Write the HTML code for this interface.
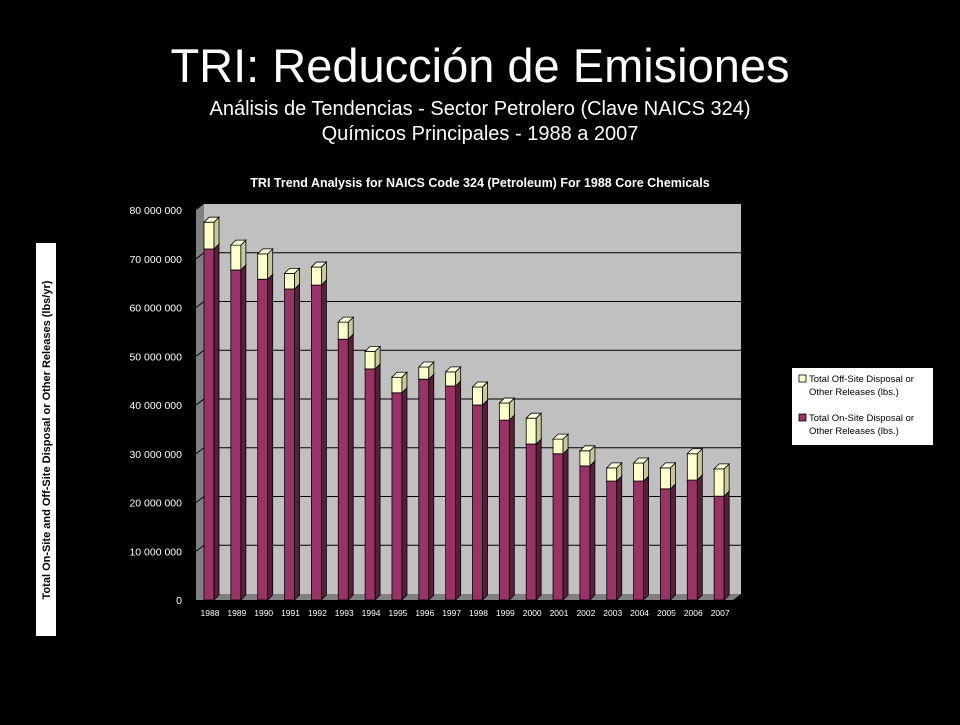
<!DOCTYPE html>
<html><head><meta charset="utf-8"><style>
body{margin:0;background:#000;width:960px;height:720px;overflow:hidden;font-family:"Liberation Sans",sans-serif;}
</style></head><body>
<svg width="960" height="720" xmlns="http://www.w3.org/2000/svg">
<text x="480" y="82" fill="#fff" font-size="47" text-anchor="middle">TRI: Reducción de Emisiones</text>
<text x="480" y="115" fill="#fff" font-size="20" text-anchor="middle">Análisis de Tendencias - Sector Petrolero (Clave NAICS 324)</text>
<text x="480" y="140" fill="#fff" font-size="20" text-anchor="middle">Químicos Principales - 1988 a 2007</text>
<text x="480" y="187" fill="#fff" font-size="12.5" font-weight="bold" text-anchor="middle">TRI Trend Analysis for NAICS Code 324 (Petroleum) For 1988 Core Chemicals</text>
<rect x="36" y="243" width="20" height="393" fill="#fff"/>
<text transform="translate(50,440) rotate(-90)" fill="#000" font-size="11" font-weight="bold" text-anchor="middle">Total On-Site and Off-Site Disposal or Other Releases  (lbs/yr)</text>
<g id="plot"></g>
<g>
<rect x="792" y="368" width="141" height="77" fill="#fff"/>
<rect x="799" y="375" width="7" height="7" fill="#ffffcc" stroke="#000" stroke-width="0.8"/>
<text x="809" y="382" font-size="9.5">Total Off-Site Disposal or</text>
<text x="809" y="395" font-size="9.5">Other Releases (lbs.)</text>
<rect x="799" y="414" width="7" height="7" fill="#993366" stroke="#000" stroke-width="0.8"/>
<text x="809" y="421" font-size="9.5">Total On-Site Disposal or</text>
<text x="809" y="434" font-size="9.5">Other Releases (lbs.)</text>
</g>
</svg>
<script>
const years=["1988","1989","1990","1991","1992","1993","1994","1995","1996","1997","1998","1999","2000","2001","2002","2003","2004","2005","2006","2007"];
const onSite=[72,67.7,65.8,63.8,64.6,53.5,47.4,42.5,45.3,43.9,40,36.9,32,30,27.5,24.4,24.4,22.8,24.6,21.3];
const offSite=[5.5,5.1,5.2,3.2,3.7,3.5,3.6,3.2,2.5,2.9,3.7,3.5,5.3,3,3.1,2.7,3.7,4.3,5.4,5.6];
const yTicks=[0,10,20,30,40,50,60,70,80];
const yTickLabels=["0","10 000 000","20 000 000","30 000 000","40 000 000","50 000 000","60 000 000","70 000 000","80 000 000"];
const NS="http://www.w3.org/2000/svg";
const g=document.getElementById('plot');
const x0=196,base=600,dx=8,dy=-6,xR=733,pxPer=4.875;
const y=v=>base-v*pxPer;
function mk(t,a,p){const e=document.createElementNS(NS,t);for(const k in a)e.setAttribute(k,a[k]);(p||g).appendChild(e);return e;}
// walls
let w=mk('polygon',{points:`${x0},${y(80)} ${x0+dx},${y(80)+dy} ${x0+dx},${base+dy} ${x0},${base}`,fill:'#808080'});

w=mk('rect',{x:x0+dx,y:y(80)+dy,width:xR-x0,height:80*pxPer,fill:'#c0c0c0'});

w=mk('polygon',{points:`${x0},${base} ${x0+dx},${base+dy} ${xR+dx},${base+dy} ${xR},${base}`,fill:'#808080'});

yTicks.forEach((t,i)=>{
 if(t>0&&t<80){const l=mk('polyline',{points:`${x0},${y(t)} ${x0+dx},${y(t)+dy} ${xR+dx},${y(t)+dy}`,fill:'none',stroke:'#000','stroke-width':1});
 }
 const tx=mk('text',{x:182,y:y(t)+4,fill:'#fff','font-size':10.5,'text-anchor':'end'});tx.textContent=yTickLabels[i];
 
});
const pitch=(xR-x0)/years.length,bw=10;
function box(x,v0,v1,front,side,top,name){
 const a=y(v0),b=y(v1),gg=mk('g',{});
 
 mk('rect',{x:x,y:b,width:bw,height:a-b,fill:front,stroke:'#000','stroke-width':0.8},gg);
 mk('polygon',{points:`${x+bw},${a} ${x+bw+5},${a-5} ${x+bw+5},${b-5} ${x+bw},${b}`,fill:side,stroke:'#000','stroke-width':0.8},gg);
 mk('polygon',{points:`${x},${b} ${x+5},${b-5} ${x+bw+5},${b-5} ${x+bw},${b}`,fill:top,stroke:'#000','stroke-width':0.8},gg);
}
years.forEach((yr,i)=>{
 const x=x0+8+i*pitch;
 box(x,0,onSite[i],'#993366','#5a1e3c','#b0507c','bar-onsite-'+yr);
 box(x,onSite[i],onSite[i]+offSite[i],'#ffffcc','#c8c89a','#ffffe0','bar-offsite-'+yr);
 const t=mk('text',{x:x+bw/2+1,y:base+16,fill:'#fff','font-size':8.5,'text-anchor':'middle'});t.textContent=yr;
 
});
</script>
</body></html>
